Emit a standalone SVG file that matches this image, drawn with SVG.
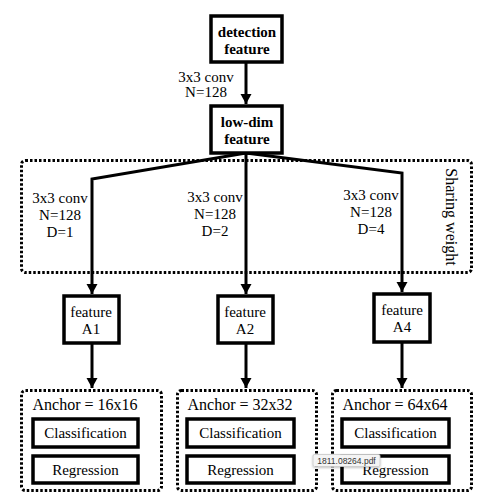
<svg xmlns="http://www.w3.org/2000/svg" width="482" height="500" viewBox="0 0 482 500" font-family="'Liberation Serif', 'DejaVu Serif', serif">
  <style>
    .box { fill: #ffffff; stroke: #000000; stroke-width: 3.5; }
    .dot { fill: none; stroke: #000000; stroke-width: 3; stroke-dasharray: 2.5 2; }
    .wire { fill: none; stroke: #000000; stroke-width: 3; }
    .t { font-family: 'Liberation Serif', 'DejaVu Serif', serif; fill: #000000; text-anchor: middle; dominant-baseline: central; }
    .bold { font-weight: bold; font-size: 15px; }
    .lbl { font-size: 15px; }
    .big { font-size: 16px; }
    .tip { font-family: 'Liberation Sans', Arial, sans-serif; font-size: 8.5px; fill: #333333; text-anchor: middle; dominant-baseline: central; }
  </style>
  <defs>
    <marker id="arrow" markerUnits="userSpaceOnUse" markerWidth="11" markerHeight="13" refX="10" refY="5.5" orient="auto">
      <path d="M0,0 L10,5.5 L0,11 Z" fill="#000000"/>
    </marker>
    <filter id="tipShadow" x="-20%" y="-40%" width="140%" height="180%">
      <feDropShadow dx="0" dy="1" stdDeviation="1" flood-color="#000000" flood-opacity="0.25"/>
    </filter>
  </defs>

  <!-- shared-weight region -->
  <g id="sharing-weight">
    <rect class="dot" x="21.5" y="160.5" width="450" height="112" rx="4"/>
    <text class="t big" transform="translate(451 217) rotate(90)">Sharing weight</text>
  </g>

  <!-- connectors -->
  <g id="connectors">
    <line class="wire" x1="246" y1="62" x2="246" y2="104" marker-end="url(#arrow)"/>
    <polyline class="wire" points="246,153 92,179 92,294" marker-end="url(#arrow)"/>
    <line class="wire" x1="246" y1="153" x2="246" y2="294" marker-end="url(#arrow)"/>
    <polyline class="wire" points="246,153 402,173 402,292" marker-end="url(#arrow)"/>
    <line class="wire" x1="92" y1="343" x2="92" y2="388" marker-end="url(#arrow)"/>
    <line class="wire" x1="246" y1="343" x2="246" y2="388" marker-end="url(#arrow)"/>
    <line class="wire" x1="402" y1="342" x2="402" y2="388" marker-end="url(#arrow)"/>
  </g>

  <!-- convolution labels -->
  <g id="conv-labels">
    <text class="t lbl" x="206" y="77">3x3 conv</text>
    <text class="t lbl" x="206" y="92">N=128</text>
    <text class="t lbl" x="60" y="198">3x3 conv</text>
    <text class="t lbl" x="60" y="215">N=128</text>
    <text class="t lbl" x="60" y="232">D=1</text>
    <text class="t lbl" x="215" y="197">3x3 conv</text>
    <text class="t lbl" x="215" y="214">N=128</text>
    <text class="t lbl" x="215" y="231">D=2</text>
    <text class="t lbl" x="371" y="195">3x3 conv</text>
    <text class="t lbl" x="371" y="212">N=128</text>
    <text class="t lbl" x="371" y="229">D=4</text>
  </g>

  <g id="detection-feature">
    <rect class="box" x="211" y="16" width="71" height="46"/>
    <text class="t bold" x="247" y="32">detection</text>
    <text class="t bold" x="247" y="49">feature</text>
  </g>

  <g id="low-dim-feature">
    <rect class="box" x="211" y="106" width="71" height="47"/>
    <text class="t bold" x="247" y="122">low-dim</text>
    <text class="t bold" x="247" y="139">feature</text>
  </g>

  <g id="feature-a1">
    <rect class="box" x="64" y="296" width="55" height="47"/>
    <text class="t lbl" x="91" y="312">feature</text>
    <text class="t lbl" x="91" y="329">A1</text>
  </g>

  <g id="feature-a2">
    <rect class="box" x="218" y="296" width="55" height="47"/>
    <text class="t lbl" x="245" y="312">feature</text>
    <text class="t lbl" x="245" y="329">A2</text>
  </g>

  <g id="feature-a4">
    <rect class="box" x="374" y="294" width="56" height="48"/>
    <text class="t lbl" x="402" y="310">feature</text>
    <text class="t lbl" x="402" y="327">A4</text>
  </g>

  <g id="head-16">
    <rect class="dot" x="21.5" y="390.5" width="140" height="100" rx="4"/>
    <text class="t big" x="85" y="404">Anchor = 16x16</text>
    <rect class="box" x="33" y="419" width="105" height="28"/>
    <text class="t lbl" x="85.5" y="433">Classification</text>
    <rect class="box" x="33" y="456" width="105" height="27"/>
    <text class="t lbl" x="85.5" y="470">Regression</text>
  </g>

  <g id="head-32">
    <rect class="dot" x="177.5" y="390.5" width="139" height="100" rx="4"/>
    <text class="t big" x="240" y="404">Anchor = 32x32</text>
    <rect class="box" x="187" y="419" width="107" height="28"/>
    <text class="t lbl" x="240.5" y="433">Classification</text>
    <rect class="box" x="187" y="456" width="107" height="27"/>
    <text class="t lbl" x="240.5" y="470">Regression</text>
  </g>

  <g id="head-64">
    <rect class="dot" x="332.5" y="390.5" width="139" height="100" rx="4"/>
    <text class="t big" x="395" y="404">Anchor = 64x64</text>
    <rect class="box" x="342" y="419" width="107" height="28"/>
    <text class="t lbl" x="395.5" y="433">Classification</text>
    <rect class="box" x="342" y="456" width="107" height="27"/>
    <text class="t lbl" x="395.5" y="470">Regression</text>
  </g>

  <!-- file-name tooltip -->
  <g id="tooltip">
    <rect x="313" y="454.5" width="67" height="12" rx="1.5" fill="#f4f4f4" stroke="#c8c8c8" stroke-width="0.8" filter="url(#tipShadow)"/>
    <text class="tip" x="346.5" y="460.7">1811.08264.pdf</text>
  </g>
</svg>
